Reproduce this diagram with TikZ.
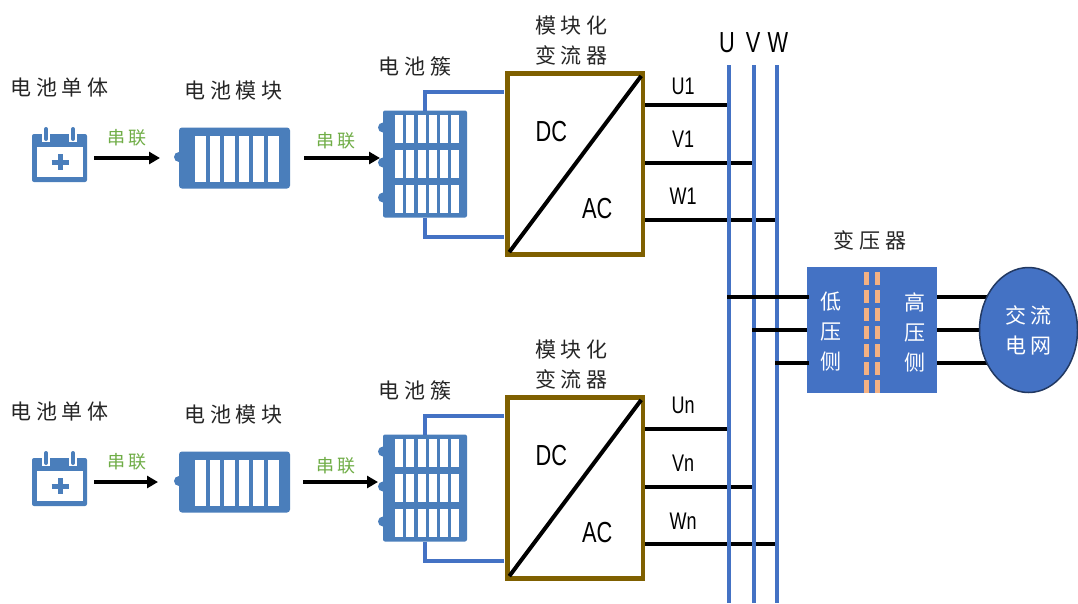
\documentclass[tikz,border=0pt]{standalone}
\usepackage{fontspec}
\setmainfont{Liberation Sans}
\newfontfamily\cjk[LetterSpace=22]{Noto Sans CJK SC}
\newfontfamily\narrowfont[FakeStretch=0.75]{Liberation Sans}
\usetikzlibrary{positioning,arrows.meta,shapes.geometric,backgrounds}
\definecolor{batblue}{HTML}{4A7EBB}
\definecolor{linkblue}{HTML}{4472C4}
\definecolor{convbrown}{HTML}{7F6000}
\definecolor{seriesgreen}{HTML}{70AD47}
\definecolor{coildash}{HTML}{F4B183}
\newcommand{\cellmark}[1]{\begin{scope}[shift={(#1.center)}]
    \fill[white] (-22.5,-11) rectangle (23.5,19);
    \draw[batblue,line width=5pt] (-8,4) -- (9,4) (0.5,-4) -- (0.5,12);
    \draw[white,line width=8pt] (-13.5,-26) -- (-13.5,-16) (13.5,-26) -- (13.5,-16);
    \draw[batblue,line width=4pt,line cap=round] (-13.5,-29) -- (-13.5,-19) (13.5,-29) -- (13.5,-19);
  \end{scope}}
\newcommand{\modulemark}[1]{\begin{scope}[shift={(#1.center)}]
    \fill[batblue] (-55.5,-1) circle (5);
    \foreach \barx in {-39.5,-25,-10.5,4,18.5,33.5}
      \fill[white] (\barx,-22.5) rectangle ++(10.5,46);
  \end{scope}}
\newcommand{\clustermark}[1]{\begin{scope}[shift={(#1.center)}]
    \foreach \bumpy in {-36.5,-1.5,33.5}
      \fill[batblue] (-42,\bumpy) circle (5);
    \foreach \barx in {-30,-19,-7,4,15,26}
      \foreach \bary in {-49.5,-14.5,20.5}
        \fill[white] (\barx,\bary) rectangle ++(8,28);
  \end{scope}}

\begin{document}
\begin{tikzpicture}[x=1pt,y=-1pt,>=Stealth,semithick]
  \tikzstyle{every node}=[inner sep=0pt,outer sep=0pt]
  \tikzstyle{lab}=[font=\cjk\fontsize{21}{30}\selectfont,align=center,text=black!85]
  \tikzstyle{whitelab}=[font=\cjk\fontsize{21}{30}\selectfont,align=center,text=white]
  \tikzstyle{serieslab}=[font=\cjk\fontsize{18}{20}\selectfont,text=seriesgreen]
  \tikzstyle{plab}=[font=\narrowfont\fontsize{24}{26}\selectfont]
  \tikzstyle{dclab}=[font=\narrowfont\fontsize{29}{30}\selectfont]
  \tikzstyle{cell}=[fill=batblue,rounded corners=2pt,minimum width=55pt,minimum height=48pt]
  \tikzstyle{module}=[fill=batblue,rounded corners=3pt,minimum width=111pt,minimum height=61pt]
  \tikzstyle{cluster}=[fill=batblue,rounded corners=2pt,minimum width=84pt,minimum height=107pt]
  \tikzstyle{conv}=[draw=convbrown,line width=4.5pt,minimum width=135.5pt,minimum height=181pt]
  \tikzstyle{linkarrow}=[-{Triangle[length=11pt,width=12pt]},line width=3.5pt]
  \tikzstyle{wire}=[draw=linkblue,line width=4pt,shorten >=3.5pt]
  \tikzstyle{bus}=[draw=linkblue,line width=3.5pt]
  \tikzstyle{stub}=[draw=black,line width=3.5pt]
  \useasboundingbox (0,0) rectangle (1078,603);

  % Upper row
  \node[cell] (cell1) at (59.5,158) {};
  \node[module] (module1) [right=92pt of cell1] {};
  \node[cluster] (cluster1) [right=93pt of module1,yshift=-6pt] {};
  \node[conv] (conv1) [right=40.5pt of cluster1] {};
  \cellmark{cell1}
  \modulemark{module1}
  \clustermark{cluster1}

  \node[lab] (lcell1) [above=37pt of cell1] {电池单体};
  \node[lab] (lmodule1) [above=27pt of module1,xshift=-1pt] {电池模块};
  \node[lab] (lcluster1) [above=34pt of cluster1,xshift=-10pt] {电池簇};
  \node[lab] (lconv1) [above=8pt of conv1,xshift=-4pt] {模块化\\变流器};
  \node[serieslab] (sa1) at (127,138) {串联};
  \node[serieslab] (sb1) at (336,141) {串联};
  \node[dclab] (dc1) at ([xshift=-24pt,yshift=32pt]conv1.center) {DC};
  \node[dclab] (ac1) at ([xshift=22pt,yshift=-45pt]conv1.center) {AC};
  \node[plab] (U1) at (683,86) {U1};
  \node[plab] (V1) at (683,139) {V1};
  \node[plab] (W1) at (683,196) {W1};

  \draw[linkarrow,shorten <=7pt,shorten >=19pt] (cell1.east) -- (module1.west);
  \draw[linkarrow,shorten <=14pt,shorten >=3pt] (module1.east) -- (module1.east -| cluster1.west);
  \draw[wire] (cluster1.north) |- ([yshift=72pt]conv1.west);
  \draw[wire] (cluster1.south) |- ([yshift=-73pt]conv1.west);
  \draw[black,line width=4pt,shorten >=3pt,shorten <=3pt] (conv1.south west) -- (conv1.north east);

  % Lower row
  \node[cell] (celln) at (59.5,482) {};
  \node[module] (modulen) [right=92pt of celln] {};
  \node[cluster] (clustern) [right=93pt of modulen,yshift=-6pt] {};
  \node[conv] (convn) [right=40.5pt of clustern] {};
  \cellmark{celln}
  \modulemark{modulen}
  \clustermark{clustern}

  \node[lab] (lcelln) [above=37pt of celln] {电池单体};
  \node[lab] (lmodulen) [above=27pt of modulen,xshift=-1pt] {电池模块};
  \node[lab] (lclustern) [above=34pt of clustern,xshift=-10pt] {电池簇};
  \node[lab] (lconvn) [above=8pt of convn,xshift=-4pt] {模块化\\变流器};
  \node[serieslab] (san) at (127,462) {串联};
  \node[serieslab] (sbn) at (336,466) {串联};
  \node[dclab] (dcn) at ([xshift=-24pt,yshift=32pt]convn.center) {DC};
  \node[dclab] (acn) at ([xshift=22pt,yshift=-45pt]convn.center) {AC};
  \node[plab] (Un) at (683,405) {Un};
  \node[plab] (Vn) at (683,463) {Vn};
  \node[plab] (Wn) at (683,521) {Wn};

  \draw[linkarrow,shorten <=7pt,shorten >=21pt] (celln.east) -- (modulen.west);
  \draw[linkarrow,shorten <=13pt,shorten >=5pt] (modulen.east) -- (modulen.east -| clustern.west);
  \draw[wire] (clustern.north) |- ([yshift=72pt]convn.west);
  \draw[wire] (clustern.south) |- ([yshift=-73pt]convn.west);
  \draw[black,line width=4pt,shorten >=3pt,shorten <=3pt] (convn.south west) -- (convn.north east);

  % Three phase bus
  \coordinate (busU) at (729,65);
  \coordinate (busV) at (754,65);
  \coordinate (busW) at (777,65);
  \node[dclab] (lU) at (727,43) {U};
  \node[dclab] (lV) at (753,43) {V};
  \node[dclab] (lW) at (778,43) {W};

  \coordinate (pu1) at (645,105);
  \coordinate (pv1) at (645,163);
  \coordinate (pw1) at (645,220);
  \coordinate (pun) at (645,429);
  \coordinate (pvn) at (645,487);
  \coordinate (pwn) at (645,544);
  \draw[stub] (pu1) -- (pu1 -| busU);
  \draw[stub] (pv1) -- (pv1 -| busV);
  \draw[stub] (pw1) -- (pw1 -| busW);
  \draw[stub] (pun) -- (pun -| busU);
  \draw[stub] (pvn) -- (pvn -| busV);
  \draw[stub] (pwn) -- (pwn -| busW);
  \draw[bus] (busU) -- (busU |- 0,603);
  \draw[bus] (busV) -- (busV |- 0,603);
  \draw[bus] (busW) -- (busW |- 0,603);

  % Transformer and grid
  \node[fill=linkblue,minimum width=130pt,minimum height=126pt] (trans) at (872,330) {};
  \node[ellipse,fill=linkblue,draw=linkblue!50!black,line width=1.5pt,minimum width=98pt,minimum height=125pt] (gridac) at (1028.5,330) {};
  \node[lab] (ltrans) [above=17pt of trans,xshift=-2pt] {变压器};
  \node[whitelab] (llow) at ([xshift=-41pt,yshift=-2pt]trans.center) {低\\压\\侧};
  \node[whitelab] (lhigh) at ([xshift=43pt,yshift=-2pt]trans.center) {高\\压\\侧};
  \node[whitelab] (lgrid) at (gridac.center) {交流\\电网};
  \draw[coildash,line width=5pt,dash pattern=on 13pt off 5pt] ([xshift=-5.5pt,yshift=-5pt]trans.north) -- ([xshift=-5.5pt]trans.south);
  \draw[coildash,line width=5pt,dash pattern=on 13pt off 5pt] ([xshift=5.5pt,yshift=-5pt]trans.north) -- ([xshift=5.5pt]trans.south);

  \coordinate (tu) at ([yshift=33pt]trans.west);
  \coordinate (tv) at (trans.west);
  \coordinate (tw) at ([yshift=-33pt]trans.west);
  \draw[stub,shorten <=-2pt,shorten >=-2pt] (tu -| busU) -- (tu);
  \draw[stub,shorten <=-2pt] (tv -| busV) -- (tv);
  \draw[stub,shorten <=-2pt,shorten >=-2pt] (tw -| busW) -- (tw);
  \begin{scope}[on background layer]
    \draw[stub] (tu -| trans.east) -- (tu -| gridac.center);
    \draw[stub] (tv -| trans.east) -- (tv -| gridac.center);
    \draw[stub] (tw -| trans.east) -- (tw -| gridac.center);
  \end{scope}
\end{tikzpicture}
\end{document}
